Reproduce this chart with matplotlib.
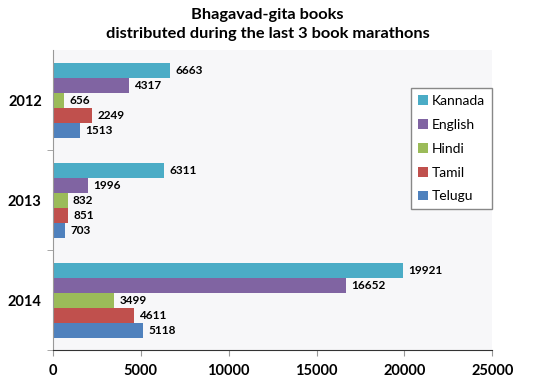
import numpy as np
import matplotlib.pyplot as plt

plt.rcParams['font.family'] = ['Lato', 'DejaVu Sans']

# data
years = ['2012', '2013', '2014']
languages = ['Kannada', 'English', 'Hindi', 'Tamil', 'Telugu']
kannada = [6663, 6311, 19921]
english = [4317, 1996, 16652]
hindi = [656, 832, 3499]
tamil = [2249, 851, 4611]
telugu = [1513, 703, 5118]
colors = ['#4BACC6', '#8064A2', '#9BBB59', '#C0504D', '#4F81BD']

series = [kannada, english, hindi, tamil, telugu]

fig = plt.figure(figsize=(5.35, 3.83), dpi=100)
ax = fig.add_axes([0.099, 0.086, 0.821, 0.783])
ax.set_facecolor('#f7f7f9')

y = np.arange(len(years))
h = 0.15
for i, (vals, lang) in enumerate(zip(series, languages)):
    pos = y - 0.3 + i * h
    bars = ax.barh(pos, vals, height=h, color=colors[i], label=lang)
    for b, v in zip(bars, vals):
        ax.text(v + 300, b.get_y() + h / 2, str(v), va='center', ha='left',
                fontsize=8.5, fontweight='bold')

ax.set_ylim(2.5, -0.5)
ax.set_xlim(0, 25000)
ax.set_yticks(y)
ax.set_yticklabels(years, fontsize=10.5, fontweight='bold')
ax.tick_params(axis='y', length=0, pad=8)
ax.set_yticks([0.5, 1.5, 2.5], minor=True)
ax.tick_params(axis='y', which='minor', length=4, direction='out', color='#999999')
ax.set_xticks(np.arange(0, 25001, 5000))
ax.set_xticklabels([str(t) for t in range(0, 25001, 5000)], fontsize=10.5, fontweight='bold')
ax.tick_params(axis='x', length=4, direction='out', color='#999999', pad=6)

for s in ['top', 'right']:
    ax.spines[s].set_visible(False)
ax.spines['left'].set_color('#999999')
ax.spines['bottom'].set_color('#333333')

ax.legend(loc='upper right', bbox_to_anchor=(1.0, 0.873), borderaxespad=0,
          fontsize=10, fancybox=False, edgecolor='#888888', framealpha=1,
          handlelength=0.7, handleheight=0.7, labelspacing=0.85,
          borderpad=0.5, handletextpad=0.3)

fig.suptitle('Bhagavad-gita books\ndistributed during the last 3 book marathons',
             fontsize=11.8, fontweight='bold', y=0.98, linespacing=1.5)

fig.savefig('out.png', dpi=100)
